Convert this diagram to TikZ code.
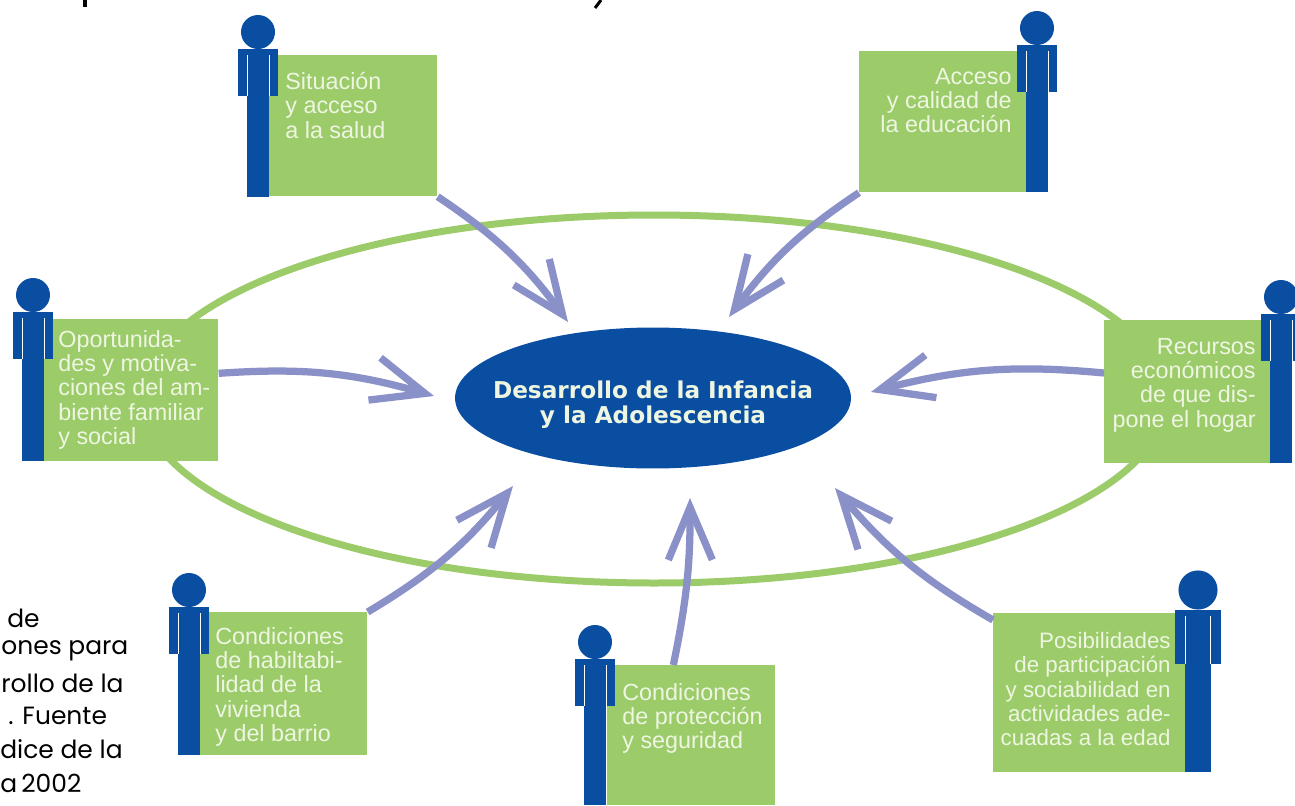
\documentclass[tikz,border=0pt]{standalone}
\usepackage{fontspec}
\setmainfont{Liberation Sans}
\newfontfamily\gothicfont{Poppins}
\newfontfamily\widefont{DejaVu Sans}
\usetikzlibrary{arrows.meta,shapes.geometric}
\definecolor{azul}{HTML}{0A4EA2}
\definecolor{verde}{HTML}{9CCB6A}
\definecolor{lila}{HTML}{8A90C8}
\definecolor{crema}{HTML}{EEF6E2}
\tikzset{
  caja/.style={fill=verde, anchor=north west, inner sep=0pt},
  rotulo/.style={text=crema, inner sep=0pt, font=\fontsize{13.3}{13.8}\selectfont},
  flecha/.style={draw=lila, line width=1.45mm, -{Straight Barb[length=1.05cm,width=0.88cm]}},
  margen/.style={anchor=west, inner sep=0pt, font=\gothicfont\fontsize{14.2}{16}\selectfont}
}
% figure: scale, head x, head y, body length
\newcommand{\persona}[4][1]{
  \begin{scope}[shift={(#2,#3)},scale=#1]
    \fill [azul] (0,0) ellipse [x radius=17, y radius=17];
    \fill [azul] (-20,17) rectangle (20,64);
    \fill [azul] (-11,17) rectangle (11,#4);
    \foreach \x in {-11, 11} \draw [white, line width=0.4pt] (\x,23)--(\x,64);
  \end{scope}
}

\begin{document}
\begin{tikzpicture}[x=0.02cm,y=-0.02cm]
  \useasboundingbox (0,0) rectangle (1295,805);
  \clip (0,0) rectangle (1295,805);
  \fill [white] (0,0) rectangle (1295,805);

  \draw [verde, line width=1.4mm] (654,399) ellipse [x radius=512, y radius=184];

  \node [caja, minimum width=3.38cm, minimum height=2.82cm] (salud) at (268,55) {};
  \node [caja, minimum width=3.42cm, minimum height=2.82cm] (educacion) at (859,51) {};
  \node [caja, minimum width=3.60cm, minimum height=2.84cm] (familia) at (38,319) {};
  \node [caja, minimum width=3.40cm, minimum height=2.86cm] (hogar) at (1104,320) {};
  \node [caja, minimum width=3.36cm, minimum height=2.86cm] (barrio) at (199,612) {};
  \node [caja, minimum width=3.36cm, minimum height=2.80cm] (seguridad) at (607,665) {};
  \node [caja, minimum width=3.86cm, minimum height=3.18cm] (edad) at (993,613) {};

  \node [ellipse, fill=azul, inner sep=0pt, minimum width=7.92cm, minimum height=2.82cm] (centro) at (653,398) {};
  \node [text=crema, align=center, inner sep=0pt, font=\widefont\bfseries\fontsize{13.2}{14.2}\selectfont] (centrotxt) at (653,405)
    {Desarrollo de la Infancia\\y la Adolescencia};

  \coordinate (a) at (568,322);
  \coordinate (b) at (729,317);
  \coordinate (c) at (434,396);
  \coordinate (d) at (871,392);
  \coordinate (e) at (513,486);
  \coordinate (f) at (690,498);
  \coordinate (g) at (835,488);
  \draw [flecha] (salud.south east) to [bend left=10] (a);
  \draw [flecha] (educacion.south west) to [bend right=10] (b);
  \draw [flecha] (familia.east) ++(0,-17) to [bend left=10] (c);
  \draw [flecha] (hogar.west |- 0,373) to [bend right=10] (d);
  \draw [flecha] (barrio.north east) to [bend right=10] (e);
  \draw [flecha] (seguridad.north) ++(-18,0) to [bend right=6] (f);
  \draw [flecha] (edad.north west) ++(0,7) to [bend left=10] (g);

  \persona{258}{32}{165}
  \persona{1037}{28}{164}
  \persona{33}{295}{166}
  \persona{1281}{297}{166}
  \persona{189}{590}{165}
  \persona{595}{642}{163}
  \persona[1.15]{1198}{590}{158}

  \node [rotulo, anchor=north west, align=left] (t1) at (285,72) {Situación\\y acceso\\a la salud};
  \node [rotulo, anchor=north east, align=right] (t2) at (1012,68) {Acceso\\y calidad de\\la educación};
  \node [rotulo, anchor=north west, align=left] (t3) at (58,330) {Oportunida-\\des y motiva-\\ciones del am-\\biente familiar\\y social};
  \node [rotulo, anchor=north east, align=right] (t4) at (1256,338) {Recursos\\económicos\\de que dis-\\pone el hogar};
  \node [rotulo, anchor=north west, align=left] (t5) at (215,627) {Condiciones\\de habiltabi-\\lidad de la\\vivienda\\y del barrio};
  \node [rotulo, anchor=north west, align=left] (t6) at (622,683) {Condiciones\\de protección\\y seguridad};
  \node [rotulo, anchor=north east, align=right, font=\fontsize{12.7}{13.8}\selectfont] (t7) at (1171,632) {Posibilidades\\de participación\\y sociabilidad en\\actividades ade-\\cuadas a la edad};

  \foreach \x/\y/\txt in {7/618/de, 1/651/ones para, 1/683/rollo de la, 8/716/. Fuente, 0/749/dice de la, 0/783/a\,2002}
    \node [margen] at (\x,\y) {\txt};

  % remains of the cut off title
  \draw [line width=0.7mm] (85,0)--(85,7);
  \draw [line width=0.6mm] (601,0)--(595,8);
\end{tikzpicture}
\end{document}
